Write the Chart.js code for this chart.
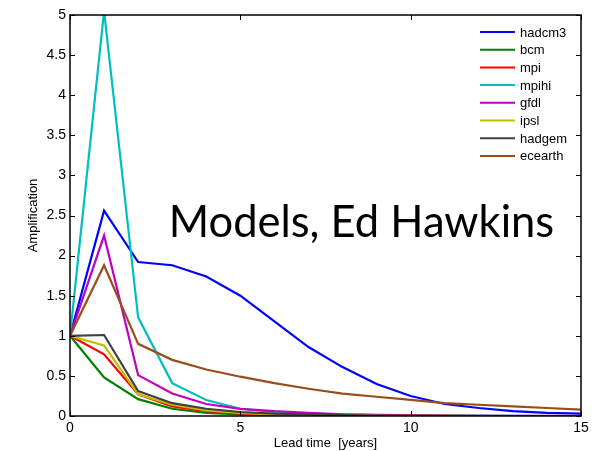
<!DOCTYPE html>
<html>
<head>
<meta charset="utf-8">
<script src="https://cdn.jsdelivr.net/npm/chart.js@4"></script>
<style>
  html, body { margin: 0; padding: 0; background: #fff; }
  #wrap { width: 597px; height: 451px; }
</style>
</head>
<body>
<div id="wrap"><canvas id="amp-chart" width="597" height="451"></canvas></div>
<script>
/* ===== Amplification vs lead time ===== */

const leadYears = [0, 1, 2, 3, 4, 5, 6, 7, 8, 9, 10, 11, 12, 13, 14, 15];
const modelNames = ['hadcm3', 'bcm', 'mpi', 'mpihi', 'gfdl', 'ipsl', 'hadgem', 'ecearth'];
const modelColors = ['#0000ff', '#008000', '#ff0000', '#00bfbf', '#bf00bf', '#bfbf00', '#404040', '#994d1a'];

const hadcm3  = [1, 2.56, 1.92, 1.88, 1.74, 1.50, 1.18, 0.86, 0.61, 0.40, 0.25, 0.15, 0.10, 0.06, 0.04, 0.03];
const bcm     = [1, 0.48, 0.21, 0.09, 0.04, 0.02, 0.01, 0.005, 0.003, 0.002, 0.001, 0, 0, 0, 0, 0];
const mpi     = [1, 0.77, 0.27, 0.12, 0.06, 0.03, 0.015, 0.01, 0.005, 0.003, 0.002, 0.001, 0, 0, 0, 0];
const mpihi   = [1, 5.05, 1.23, 0.41, 0.20, 0.09, 0.05, 0.03, 0.02, 0.01, 0.005, 0.003, 0.002, 0.001, 0, 0];
const gfdl    = [1, 2.25, 0.51, 0.28, 0.15, 0.09, 0.06, 0.04, 0.02, 0.015, 0.01, 0.005, 0.003, 0.002, 0.001, 0];
const ipsl    = [1, 0.88, 0.27, 0.14, 0.07, 0.04, 0.02, 0.01, 0.006, 0.003, 0.002, 0.001, 0, 0, 0, 0];
const hadgem  = [1, 1.01, 0.31, 0.16, 0.09, 0.05, 0.03, 0.02, 0.01, 0.006, 0.003, 0.002, 0.001, 0, 0, 0];
const ecearth = [1, 1.88, 0.90, 0.70, 0.58, 0.49, 0.41, 0.34, 0.28, 0.24, 0.20, 0.16, 0.14, 0.12, 0.10, 0.08];

const seriesValues = [hadcm3, bcm, mpi, mpihi, gfdl, ipsl, hadgem, ecearth];

const xTicks = [0, 5, 10, 15];
const yTicks = [0, 0.5, 1, 1.5, 2, 2.5, 3, 3.5, 4, 4.5, 5];

const overlayText = 'Models, Ed Hawkins';
const xTitle = 'Lead time  [years]';
const yTitle = 'Amplification';

const FONT = "'Liberation Sans', Arial, Helvetica, sans-serif";

/** Box with MATLAB-style inward ticks on all four sides */
const boxPlugin = {
  id: 'boxTicks',
  afterDatasetsDraw(chart) {
    const { ctx, chartArea: a, scales } = chart;
    const len = 5;
    ctx.save();
    ctx.strokeStyle = '#000';
    ctx.lineWidth = 1;
    ctx.beginPath();
    xTicks.forEach(v => {
      const px = Math.round(scales.x.getPixelForValue(v)) + 0.5;
      ctx.moveTo(px, a.bottom); ctx.lineTo(px, a.bottom - len);
      ctx.moveTo(px, a.top); ctx.lineTo(px, a.top + len);
    });
    yTicks.forEach(v => {
      const py = Math.round(scales.y.getPixelForValue(v)) + 0.5;
      ctx.moveTo(a.left, py); ctx.lineTo(a.left + len, py);
      ctx.moveTo(a.right, py); ctx.lineTo(a.right - len, py);
    });
    ctx.stroke();
    ctx.lineWidth = 1.5;
    ctx.strokeRect(a.left, a.top, a.right - a.left, a.bottom - a.top);
    ctx.restore();
  }
};

/** Legend drawn inside the axes, top right, no frame */
const legendPlugin = {
  id: 'innerLegend',
  afterDatasetsDraw(chart) {
    const { ctx, chartArea: a } = chart;
    const x0 = a.right - 101;
    const y0 = a.top + 17;
    const rowH = 17.7;
    ctx.save();
    ctx.font = '13px ' + FONT;
    ctx.textBaseline = 'middle';
    ctx.textAlign = 'left';
    chart.data.datasets.forEach((ds, i) => {
      const y = y0 + i * rowH;
      ctx.strokeStyle = ds.borderColor;
      ctx.lineWidth = 2;
      ctx.beginPath();
      ctx.moveTo(x0, y); ctx.lineTo(x0 + 35, y);
      ctx.stroke();
      ctx.fillStyle = '#000';
      ctx.fillText(ds.label, x0 + 40, y + 1);
    });
    ctx.restore();
  }
};

/** Big annotation text pasted over the plot */
const overlayPlugin = {
  id: 'overlayText',
  afterDraw(chart) {
    const { ctx, scales } = chart;
    ctx.save();
    ctx.font = '43.5px Lato, "Open Sans", sans-serif';
    ctx.fillStyle = '#000';
    ctx.textBaseline = 'alphabetic';
    ctx.textAlign = 'left';
    ctx.fillText(overlayText, scales.x.getPixelForValue(2.9), scales.y.getPixelForValue(2.23));
    ctx.restore();
  }
};

const datasets = modelNames.map((name, i) => ({
  label: name,
  data: leadYears.map((t, j) => ({ x: t, y: seriesValues[i][j] })),
  borderColor: modelColors[i],
  backgroundColor: modelColors[i],
  borderWidth: 2.2,
  pointRadius: 0,
  tension: 0,
  order: modelNames.length - i
}));

new Chart(document.getElementById('amp-chart').getContext('2d'), {
  type: 'line',
  data: { datasets },
  options: {
    responsive: false,
    animation: false,
    devicePixelRatio: 1,
    layout: { padding: { left: 0, right: 16, top: 15, bottom: 0 } },
    plugins: {
      legend: { display: false },
      tooltip: { enabled: false }
    },
    scales: {
      x: {
        type: 'linear',
        min: 0,
        max: 15,
        afterBuildTicks: axis => { axis.ticks = xTicks.map(v => ({ value: v })); },
        afterFit: axis => { axis.height = 35; },
        grid: { display: false, drawTicks: false, tickLength: 0 },
        border: { display: false },
        ticks: {
          color: '#000',
          font: { family: FONT, size: 14 },
          padding: 4,
          maxRotation: 0,
          callback: v => String(v)
        },
        title: {
          display: true,
          text: xTitle,
          color: '#000',
          font: { family: FONT, size: 13 },
          padding: { top: 0, bottom: 0 }
        }
      },
      y: {
        type: 'linear',
        min: 0,
        max: 5,
        afterBuildTicks: axis => { axis.ticks = yTicks.map(v => ({ value: v })); },
        afterFit: axis => { axis.width = 70; },
        grid: { display: false, drawTicks: false, tickLength: 0 },
        border: { display: false },
        ticks: {
          color: '#000',
          font: { family: FONT, size: 14 },
          padding: 4,
          callback: v => String(v)
        },
        title: {
          display: true,
          text: yTitle,
          color: '#000',
          font: { family: FONT, size: 13 },
          padding: { top: 26, bottom: 0 }
        }
      }
    }
  },
  plugins: [boxPlugin, legendPlugin, overlayPlugin]
});
</script>
</body>
</html>
